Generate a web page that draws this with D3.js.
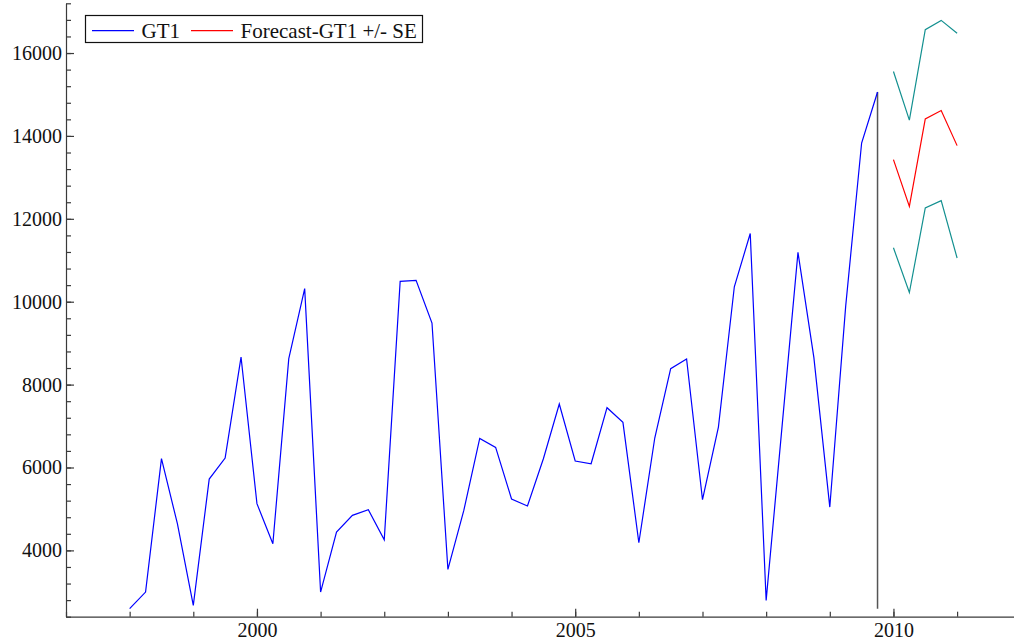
<!DOCTYPE html>
<html>
<head>
<meta charset="utf-8">
<script src="https://cdn.jsdelivr.net/npm/d3@7"></script>
<style>
  html, body { margin: 0; padding: 0; background: #fff; }
  svg { display: block; }
  svg text { font-family: "Liberation Serif", "Times New Roman", serif !important; fill: #111; }
</style>
</head>
<body>
<svg id="chart" width="1014" height="642"></svg>
<script>
// Quarterly GT1 series, 1998Q1 - 2009Q4
const startYear = 1998;
const gt1 = [
  2593, 2994, 6213, 4644,
  2673, 5721, 6228, 8665,
  5127, 4161, 8625, 10315,
  2994, 4442, 4845, 4981,
  4257, 10491, 10515, 9486,
  3542, 4965, 6703, 6485,
  5239, 5070, 6212, 7531,
  6156, 6091, 7443, 7089,
  4185, 6711, 8384, 8617,
  5222, 6976, 10360, 11645,
  2793, 6992, 11190, 8650,
  5045, 9900, 13829, 15059
];
// Forecasts 2010Q1 - 2011Q1 with standard errors
const forecastStart = 2010;
const forecast = [13427, 12301, 14412, 14613, 13766];
const forecastSE = [2126, 2080, 2150, 2175, 2712];

const xTickYears = d3.range(1997, 2012);
const xLabelYears = [2000, 2005, 2010];
const yMinorTicks = d3.range(2400, 17201, 400);
const yMajorTicks = [4000, 6000, 8000, 10000, 12000, 14000, 16000];
const legendLabels = ["GT1", "Forecast-GT1 +/- SE"];

const svg = d3.select("#chart");
const x = d3.scaleLinear().domain([1997, 2011.95]).range([66, 66 + 14.95 * 63.65]);
const y = d3.scaleLinear().domain([2400, 17200]).range([616.7, 3.3]);

const axisColor = "#3a3a3a";
const serif = "'Liberation Serif', 'Times New Roman', serif";

const obs = gt1.map((v, i) => ({ t: startYear + i * 0.25, v }));
const fc = forecast.map((v, i) => ({ t: forecastStart + i * 0.25, v, se: forecastSE[i] }));

const line = d3.line().x(d => x(d.t)).y(d => y(d.v));

// Axes: minor and major ticks point inward
function styleAxis(g) {
  g.attr("font-family", serif).attr("font-size", 20);
  g.selectAll("path, line").attr("stroke", axisColor).attr("stroke-width", 1.2);
  g.selectAll("text").attr("fill", "#111").style("font-family", serif).style("font-size", "20px");
}

svg.append("g").attr("transform", `translate(${x(1997)},0)`)
  .call(d3.axisLeft(y).tickValues(yMinorTicks).tickSize(-5).tickSizeOuter(0).tickFormat(""))
  .call(styleAxis);
svg.append("g").attr("transform", `translate(${x(1997)},0)`)
  .call(d3.axisLeft(y).tickValues(yMajorTicks).tickSize(-8).tickSizeOuter(0).tickPadding(4).tickFormat(d3.format("d")))
  .call(styleAxis)
  .call(g => g.select(".domain").remove());

svg.append("g").attr("transform", `translate(0,${y(2400)})`)
  .call(d3.axisBottom(x).tickValues(xTickYears).tickSize(-5).tickSizeOuter(0).tickFormat(""))
  .call(styleAxis);
svg.append("g").attr("transform", `translate(0,${y(2400)})`)
  .call(d3.axisBottom(x).tickValues(xLabelYears).tickSize(-8).tickSizeOuter(0).tickPadding(6).tickFormat(d3.format("d")))
  .call(styleAxis)
  .call(g => g.select(".domain").remove());

// Vertical marker at the end of the sample, spanning the data range
const last = obs[obs.length - 1];
svg.append("line")
  .attr("x1", x(last.t)).attr("x2", x(last.t))
  .attr("y1", y(d3.min(gt1))).attr("y2", y(d3.max(gt1)))
  .attr("stroke", "#555").attr("stroke-width", 1.5);

// Observed series
svg.append("path").datum(obs)
  .attr("d", line).attr("fill", "none")
  .attr("stroke", "#0000ff").attr("stroke-width", 1.2);

// Forecast bands (+/- one SE)
const bandColor = "#139090";
svg.append("path").datum(fc.map(d => ({ t: d.t, v: d.v + d.se })))
  .attr("d", line).attr("fill", "none")
  .attr("stroke", bandColor).attr("stroke-width", 1.2);
svg.append("path").datum(fc.map(d => ({ t: d.t, v: d.v - d.se })))
  .attr("d", line).attr("fill", "none")
  .attr("stroke", bandColor).attr("stroke-width", 1.2);

// Forecast
svg.append("path").datum(fc)
  .attr("d", line).attr("fill", "none")
  .attr("stroke", "#ff0000").attr("stroke-width", 1.2);

// Legend
const legend = svg.append("g");
legend.append("rect")
  .attr("x", 85.5).attr("y", 15.5).attr("width", 337).attr("height", 27)
  .attr("fill", "#fff").attr("stroke", "#111").attr("stroke-width", 1.2);
const legendItems = [
  { label: legendLabels[0], color: "#0000ff", x0: 92 },
  { label: legendLabels[1], color: "#ff0000", x0: 191 }
];
legendItems.forEach(it => {
  legend.append("line")
    .attr("x1", it.x0).attr("x2", it.x0 + 42)
    .attr("y1", 30.7).attr("y2", 30.7)
    .attr("stroke", it.color).attr("stroke-width", 1.2);
  legend.append("text")
    .attr("x", it.x0 + 49.5).attr("y", 37.5)
    .style("font-size", "21px")
    .text(it.label);
});
</script>
</body>
</html>
